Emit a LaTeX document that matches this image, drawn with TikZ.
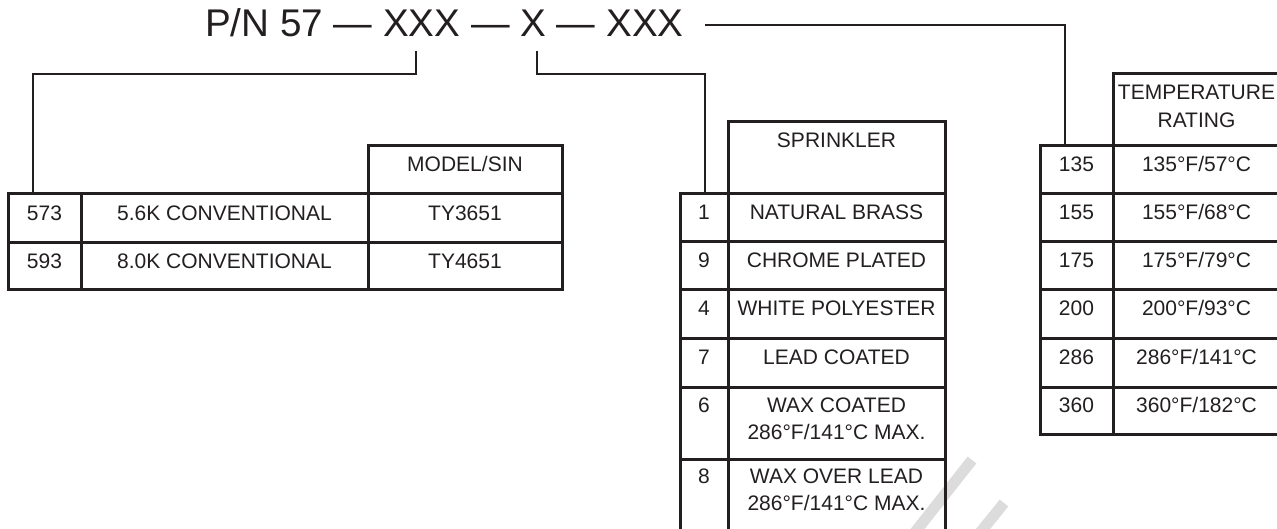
\documentclass[tikz,border=0pt]{standalone}
\usepackage{fontspec}
\setmainfont{Liberation Sans}
\definecolor{ink}{HTML}{231F20}
\definecolor{wm}{HTML}{DCDCDC}
\tikzset{
  tbl/.style={draw=ink, line width=3pt, line cap=rect},
  conn/.style={draw=ink, line width=2.2pt},
  cell/.style={anchor=base, inner sep=0pt, text=ink, font=\fontsize{21}{27}\selectfont},
  titletext/.style={anchor=base west, inner sep=0pt, text=ink, font=\fontsize{38.6}{40}\selectfont},
  wmark/.style={draw=wm, line width=11pt}
}
\begin{document}
\begin{tikzpicture}[x=1pt,y=-1pt]
\useasboundingbox (0,0) rectangle (1277,529);
\clip (0,0) rectangle (1277,529);
\fill[white] (0,0) rectangle (1277,529);

% watermark fragments
\draw[wmark] (972,460) -- (912,536);
\draw[wmark] (1004,503) -- (979,534);

% title
\node[titletext] (title) at (205,37) {P/N 57 — XXX — X — XXX};

% connector end points
\coordinate (m1) at (416,51);
\coordinate (m2) at (537,51);
\coordinate (m3) at (705,25);
\coordinate (t1) at (33,194);
\coordinate (t2) at (705,194);
\coordinate (t3) at (1065,146);

\draw[conn] (m1) -- (416,74) -| (t1);
\draw[conn] (m2) -- (537,74) -| (t2);
\draw[conn] (m3) -| (t3);

% ---- model table
\draw[tbl] (368,146) rectangle (562,194);
\draw[tbl] (8,194) rectangle (562,290);
\draw[tbl] (8,243) -- (562,243);
\draw[tbl] (81,194) -- (81,290);
\draw[tbl] (368,194) -- (368,290);
\node[cell] (hmodel) at (465,172) {MODEL/SIN};
\node[cell] (a1) at (44.5,220.5) {573};
\node[cell] (b1) at (224.5,220.5) {5.6K CONVENTIONAL};
\node[cell] (c1) at (465,220.5) {TY3651};
\node[cell] (a2) at (44.5,269) {593};
\node[cell] (b2) at (224.5,269) {8.0K CONVENTIONAL};
\node[cell] (c2) at (465,269) {TY4651};

% ---- sprinkler table
\draw[tbl] (728,122) rectangle (945,194);
\foreach \yy in {194,242,290,338,387,459,531} \draw[tbl] (680,\yy) -- (945,\yy);
\foreach \xx in {680,728,945} \draw[tbl] (\xx,194) -- (\xx,540);
\node[cell] (hspr) at (836.5,148) {SPRINKLER};
\node[cell] (s1n) at (704,220) {1};
\node[cell] (s1t) at (836.5,220) {NATURAL BRASS};
\node[cell] (s2n) at (704,268) {9};
\node[cell] (s2t) at (836.5,268) {CHROME PLATED};
\node[cell] (s3n) at (704,316) {4};
\node[cell] (s3t) at (836.5,316) {WHITE POLYESTER};
\node[cell] (s4n) at (704,364) {7};
\node[cell] (s4t) at (836.5,364) {LEAD COATED};
\node[cell] (s5n) at (704,412) {6};
\node[cell] (s5t) at (836.5,412) {WAX COATED};
\node[cell] (s5u) at (836.5,439) {286°F/141°C MAX.};
\node[cell] (s6n) at (704,483.5) {8};
\node[cell] (s6t) at (836.5,483.5) {WAX OVER LEAD};
\node[cell] (s6u) at (836.5,510.5) {286°F/141°C MAX.};

% ---- temperature table
\draw[tbl] (1113,74) rectangle (1281,146);
\foreach \yy in {146,194,242,290,338,387,434} \draw[tbl] (1040,\yy) -- (1281,\yy);
\foreach \xx in {1040,1113,1281} \draw[tbl] (\xx,146) -- (\xx,434);
\node[cell] (htemp1) at (1196.5,100) {TEMPERATURE};
\node[cell] (htemp2) at (1196.5,128) {RATING};
\node[cell] (r1n) at (1076.5,172) {135};
\node[cell] (r1t) at (1196.5,172) {135°F/57°C};
\node[cell] (r2n) at (1076.5,220) {155};
\node[cell] (r2t) at (1196.5,220) {155°F/68°C};
\node[cell] (r3n) at (1076.5,268) {175};
\node[cell] (r3t) at (1196.5,268) {175°F/79°C};
\node[cell] (r4n) at (1076.5,316) {200};
\node[cell] (r4t) at (1196.5,316) {200°F/93°C};
\node[cell] (r5n) at (1076.5,364) {286};
\node[cell] (r5t) at (1196.5,364) {286°F/141°C};
\node[cell] (r6n) at (1076.5,412) {360};
\node[cell] (r6t) at (1196.5,412) {360°F/182°C};
\end{tikzpicture}
\end{document}
